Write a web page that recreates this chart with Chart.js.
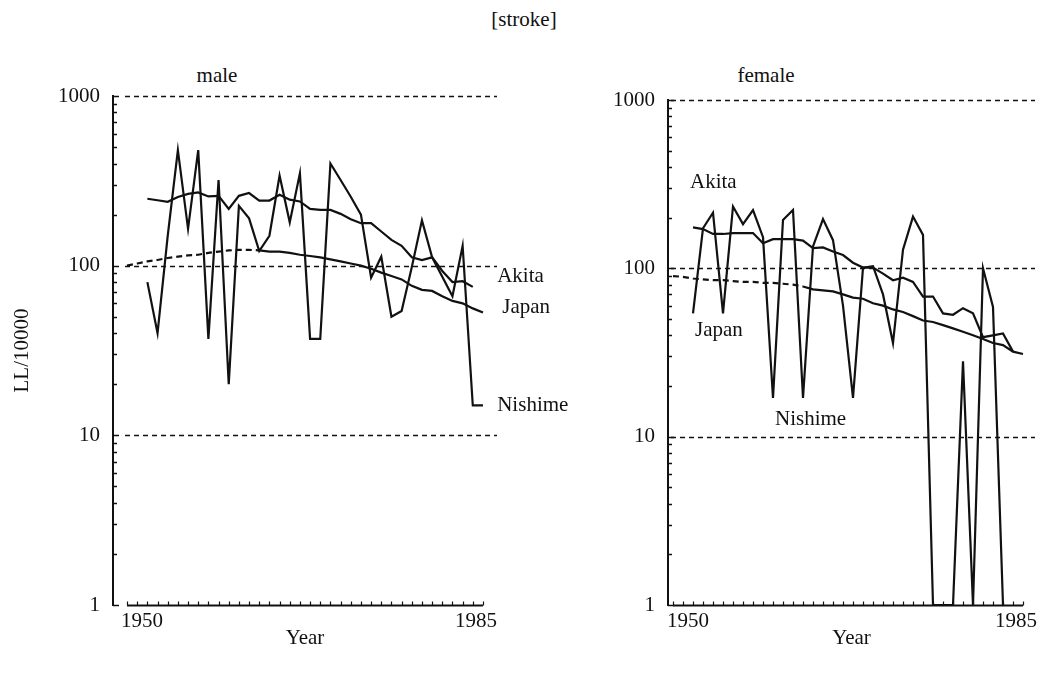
<!DOCTYPE html>
<html>
<head>
<meta charset="utf-8">
<script src="https://cdn.jsdelivr.net/npm/chart.js@4.4.1/dist/chart.umd.min.js"></script>
<style>
  body { margin: 0; background: #fff; }
  #page { position: relative; width: 1043px; height: 675px; overflow: hidden; font-family: "Liberation Serif", "DejaVu Serif", serif; color: #111; }
  .txt { position: absolute; transform: translateX(-50%); font-size: 21px; white-space: nowrap; }
  .panel { position: absolute; top: 0; height: 675px; }
</style>
</head>
<body>
<div id="page">
  <div class="txt" style="left:524px; top:7px;">[stroke]</div>
  <div class="txt" style="left:217px; top:63px;">male</div>
  <div class="txt" style="left:766px; top:63px;">female</div>
  <div class="panel" style="left:0; width:580px;"><canvas id="male"></canvas></div>
  <div class="panel" style="left:540px; width:503px;"><canvas id="female"></canvas></div>
</div>
<script>
const years = [1950, 1951, 1952, 1953, 1954, 1955, 1956, 1957, 1958, 1959,
  1960, 1961, 1962, 1963, 1964, 1965, 1966, 1967, 1968, 1969,
  1970, 1971, 1972, 1973, 1974, 1975, 1976, 1977, 1978, 1979,
  1980, 1981, 1982, 1983, 1984, 1985];

const yTicks = [1, 2, 3, 4, 5, 6, 7, 8, 9, 10, 20, 30, 40, 50, 60, 70, 80, 90,
  100, 200, 300, 400, 500, 600, 700, 800, 900, 1000];
const yLabels = [1, 10, 100, 1000];
const xLabels = [1950, 1985];

// male, LL/10000
const maleAkita = [null, null, 248, 243, 238, 254, 265, 270, 256, 258,
  216, 258, 268, 242, 242, 262, 245, 239, 216, 213,
  213, 202, 188, 178, 178, 159, 142, 131, 112, 108,
  112, 93, 80, 81, 75, null];
const maleJapan = [100, 103, 106, 108, 111, 113, 115, 116, 119, 121,
  123, 124, 124, 123, 121, 121, 119, 116, 114, 112,
  109, 106, 103, 100, 96, 91, 87, 83, 76, 72,
  71, 66, 62, 60, 56, 53];
const maleNishime = [null, null, 80, 40, 150, 480, 165, 480, 37, 320,
  20, 225, 190, 122, 150, 340, 180, 350, 37, 37,
  400, 320, 255, 200, 85, 113, 50, 54, 98, 185,
  112, 86, 66, 131, 15, 15];

// female, LL/10000
const femaleAkita = [null, null, 175, 171, 160, 160, 162, 162, 162, 141,
  149, 149, 149, 146, 132, 133, 126, 120, 108, 101,
  101, 93, 85, 88, 83, 68, 68, 54, 53, 58,
  54, 39, 40, 41, 32, null];
const femaleJapan = [90, 89, 87, 86, 85, 85, 84, 83, 83, 82,
  82, 81, 80, 78, 75, 74, 73, 70, 67, 66,
  62, 60, 57, 55, 52, 49, 48, 46, 44, 42,
  40, 38, 36, 35, 32, 31];
const femaleNishime = [null, null, 54, 173, 214, 54, 233, 183, 222, 153,
  17, 194, 222, 17, 135, 196, 147, 60, 17, 101,
  103, 70, 36, 129, 203, 158, 1, 1, 1, 28,
  1, 100, 59, 1, null, null];

const lastDashedYear = 1963;
const font = '"Liberation Serif", "DejaVu Serif", serif';

// axis frame: dashed decade lines, inward ticks, bottom axis and series names
const framePlugin = {
  id: 'frame',
  beforeDatasetsDraw(chart) {
    const { ctx, chartArea, scales: { x, y } } = chart;
    ctx.save();
    ctx.strokeStyle = '#111';
    ctx.lineWidth = 1.4;
    ctx.setLineDash([5, 4]);
    [10, 100, 1000].forEach(v => {
      const py = Math.round(y.getPixelForValue(v)) + 0.5;
      ctx.beginPath();
      ctx.moveTo(x.getPixelForValue(1950) - 2, py);
      ctx.lineTo(chartArea.right, py);
      ctx.stroke();
    });
    ctx.setLineDash([]);
    ctx.restore();
  },
  afterDraw(chart, args, opts) {
    const { ctx, chartArea, scales: { x, y } } = chart;
    ctx.save();
    ctx.strokeStyle = '#111';
    ctx.fillStyle = '#111';
    ctx.lineWidth = 1.5;
    // y ticks pointing into the plot
    yTicks.forEach(v => {
      const py = Math.round(y.getPixelForValue(v)) + 0.5;
      ctx.beginPath();
      ctx.moveTo(chartArea.left, py);
      ctx.lineTo(chartArea.left + (yLabels.includes(v) ? 6 : 4), py);
      ctx.stroke();
    });
    // bottom axis with yearly ticks
    const by = Math.round(chartArea.bottom) + 0.5;
    ctx.lineWidth = 2;
    ctx.beginPath();
    ctx.moveTo(x.getPixelForValue(years[0]), by);
    ctx.lineTo(x.getPixelForValue(years[years.length - 1]), by);
    ctx.stroke();
    ctx.lineWidth = 1.2;
    years.forEach(yr => {
      const px = Math.round(x.getPixelForValue(yr)) + 0.5;
      ctx.beginPath();
      ctx.moveTo(px, by);
      ctx.lineTo(px, by - 4);
      ctx.stroke();
    });
    ctx.font = '21px ' + font;
    ctx.textBaseline = 'top';
    ctx.textAlign = 'center';
    ctx.fillText(String(xLabels[0]), x.getPixelForValue(xLabels[0]) + 15, by + 5);
    ctx.fillText(String(xLabels[1]), x.getPixelForValue(xLabels[1]) - 7, by + 5);
    // series names
    ctx.textAlign = 'left';
    ctx.textBaseline = 'middle';
    (opts.names || []).forEach(n => {
      ctx.fillText(n.text, x.getPixelForValue(n.x), y.getPixelForValue(n.y));
    });
    ctx.restore();
  }
};

function lineSet(label, data, dashedStart) {
  return {
    label,
    data,
    borderColor: '#111',
    borderWidth: 2.2,
    pointRadius: 0,
    tension: 0,
    spanGaps: false,
    segment: dashedStart ? {
      borderDash: c => c.p1.parsed.x <= lastDashedYear ? [6, 4] : undefined
    } : undefined
  };
}

function makePanel(id, cfg) {
  return new Chart(document.getElementById(id), {
    type: 'line',
    data: {
      labels: years,
      datasets: [
        lineSet('Akita', cfg.akita, false),
        lineSet('Japan', cfg.japan, true),
        lineSet('Nishime', cfg.nishime, false)
      ]
    },
    options: {
      responsive: true,
      maintainAspectRatio: false,
      animation: false,
      layout: { padding: { top: cfg.top, right: cfg.right, bottom: 0, left: 0 } },
      plugins: {
        legend: { display: false },
        tooltip: { enabled: false },
        frame: { names: cfg.names }
      },
      scales: {
        x: {
          type: 'linear',
          min: cfg.xMin,
          max: cfg.xMax,
          grid: { display: false },
          border: { display: false },
          ticks: { display: false },
          title: {
            display: true,
            text: 'Year',
            color: '#111',
            font: { family: font, size: 21 },
            padding: { top: 0, bottom: 24 }
          },
          afterFit: s => { s.height = 70; }
        },
        y: {
          type: 'logarithmic',
          min: 1,
          max: 1000,
          grid: { display: false },
          border: { display: true, color: '#111', width: 2 },
          afterBuildTicks: axis => { axis.ticks = yTicks.map(v => ({ value: v })); },
          ticks: {
            autoSkip: false,
            padding: 5,
            color: '#111',
            font: { family: font, size: 21 },
            callback: v => yLabels.includes(v) ? String(v) : ''
          },
          title: {
            display: cfg.yTitle,
            text: 'LL/10000',
            color: '#111',
            font: { family: font, size: 21 },
            padding: { top: 10, bottom: 0 }
          },
          afterFit: s => { s.width = cfg.yWidth; }
        }
      }
    },
    plugins: [framePlugin]
  });
}

makePanel('male', {
  akita: maleAkita, japan: maleJapan, nishime: maleNishime,
  top: 96, right: 83, yWidth: 113, yTitle: true,
  xMin: 1948.62, xMax: 1986.38,
  names: [
    { text: 'Akita', x: 1986.4, y: 86 },
    { text: 'Japan', x: 1986.9, y: 57 },
    { text: 'Nishime', x: 1986.4, y: 15 }
  ]
});

makePanel('female', {
  akita: femaleAkita, japan: femaleJapan, nishime: femaleNishime,
  top: 100, right: 8, yWidth: 128, yTitle: false,
  xMin: 1949.5, xMax: 1986.2,
  names: [
    { text: 'Akita', x: 1951.7, y: 322 },
    { text: 'Japan', x: 1952.2, y: 43 },
    { text: 'Nishime', x: 1960.2, y: 12.7 }
  ]
});
</script>
</body>
</html>
